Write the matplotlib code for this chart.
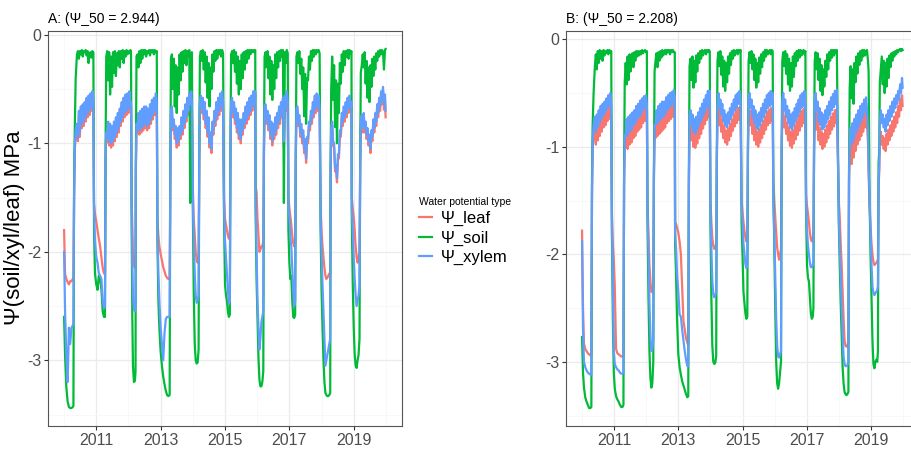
import matplotlib
matplotlib.use("Agg")
import matplotlib.pyplot as plt
from matplotlib.lines import Line2D

plt.rcParams['font.family'] = ['Liberation Sans', 'DejaVu Sans']
plt.rcParams['axes.unicode_minus'] = False

series_names = ['Ψ_leaf', 'Ψ_soil', 'Ψ_xylem']
series_colors = ['#F8766D', '#00BA38', '#619CFF']
panel_titles = ['A: (Ψ_50 = 2.944)', 'B: (Ψ_50 = 2.208)']
year_ticks = [2011, 2013, 2015, 2017, 2019]
year_minor = [2010, 2012, 2014, 2016, 2018, 2020]
psi_ticks = [0, -1, -2, -3]
psi_minor = [-0.5, -1.5, -2.5, -3.5]

# ---- panel A (decimal year) ----
t_a = [
    2010.00, 2010.03, 2010.07, 2010.11, 2010.15, 2010.19, 2010.23, 2010.27, 2010.29,
    2010.31, 2010.33, 2010.36, 2010.40,
    2010.43, 2010.46, 2010.49, 2010.52, 2010.55, 2010.58, 2010.61, 2010.64, 2010.67, 2010.70, 2010.73, 2010.76, 2010.79, 2010.82, 2010.85, 2010.88, 2010.91,
    2010.93, 2010.96, 2011.00, 2011.04, 2011.08, 2011.12, 2011.16, 2011.20, 2011.24, 2011.27,
    2011.29, 2011.31,
    2011.34, 2011.37, 2011.40, 2011.43, 2011.46, 2011.49, 2011.52, 2011.55, 2011.58, 2011.61, 2011.64, 2011.67, 2011.70, 2011.73, 2011.76, 2011.79, 2011.82, 2011.85, 2011.88, 2011.91, 2011.94, 2011.97, 2012.00, 2012.03, 2012.06, 2012.08,
    2012.10, 2012.12, 2012.14, 2012.17, 2012.20, 2012.22,
    2012.23, 2012.25,
    2012.28, 2012.31, 2012.34, 2012.37, 2012.40, 2012.43, 2012.46, 2012.49, 2012.52, 2012.55, 2012.58, 2012.61, 2012.64, 2012.67, 2012.70, 2012.73, 2012.76, 2012.79, 2012.82, 2012.85, 2012.88,
    2012.90, 2012.93, 2012.96, 2013.00, 2013.04, 2013.08, 2013.12, 2013.16, 2013.20, 2013.24, 2013.28,
    2013.30, 2013.32,
    2013.35, 2013.38, 2013.41, 2013.44, 2013.47, 2013.50, 2013.53, 2013.56, 2013.59, 2013.62, 2013.65, 2013.68, 2013.71, 2013.74, 2013.77, 2013.80, 2013.83, 2013.86, 2013.89, 2013.92, 2013.95, 2013.97,
    2014.00, 2014.03, 2014.06, 2014.09, 2014.12, 2014.15, 2014.18,
    2014.20, 2014.22,
    2014.25, 2014.28, 2014.31, 2014.34, 2014.37, 2014.40, 2014.43, 2014.46, 2014.49, 2014.52, 2014.55, 2014.58, 2014.61, 2014.64, 2014.67, 2014.70, 2014.73, 2014.76, 2014.79, 2014.82, 2014.85, 2014.88, 2014.91, 2014.94,
    2014.97, 2015.00, 2015.03, 2015.06, 2015.09, 2015.12, 2015.15,
    2015.17, 2015.19,
    2015.22, 2015.25, 2015.28, 2015.31, 2015.34, 2015.37, 2015.40, 2015.43, 2015.46, 2015.49, 2015.52, 2015.55, 2015.58, 2015.61, 2015.64, 2015.67, 2015.70, 2015.73, 2015.76, 2015.79, 2015.82, 2015.85, 2015.88, 2015.91, 2015.94,
    2015.95, 2015.98, 2016.01, 2016.04, 2016.07, 2016.10, 2016.13, 2016.16, 2016.19,
    2016.21, 2016.23,
    2016.26, 2016.29, 2016.32, 2016.35, 2016.38, 2016.41, 2016.44, 2016.47, 2016.50, 2016.53, 2016.56, 2016.59, 2016.62, 2016.65, 2016.68, 2016.71, 2016.74, 2016.77, 2016.80, 2016.83, 2016.86, 2016.89, 2016.92, 2016.95,
    2016.97, 2017.00, 2017.03, 2017.06, 2017.09, 2017.12, 2017.15, 2017.18,
    2017.20, 2017.22,
    2017.25, 2017.28, 2017.31, 2017.34, 2017.37, 2017.40, 2017.43, 2017.46, 2017.49, 2017.52, 2017.55, 2017.58, 2017.61, 2017.64, 2017.67, 2017.70, 2017.73, 2017.76, 2017.79, 2017.82, 2017.85, 2017.88, 2017.91, 2017.94,
    2017.97, 2018.00, 2018.03, 2018.06, 2018.09, 2018.12, 2018.15, 2018.18, 2018.21, 2018.24, 2018.27,
    2018.28, 2018.30,
    2018.33, 2018.36, 2018.39, 2018.42, 2018.45, 2018.48, 2018.51, 2018.54, 2018.57, 2018.60, 2018.63, 2018.66, 2018.69, 2018.72, 2018.75, 2018.78, 2018.81, 2018.84, 2018.87, 2018.90, 2018.93,
    2018.94, 2018.97, 2019.00, 2019.03, 2019.06, 2019.09, 2019.12, 2019.15, 2019.18,
    2019.20, 2019.22,
    2019.25, 2019.28, 2019.31, 2019.34, 2019.37, 2019.40, 2019.43, 2019.46, 2019.49, 2019.52, 2019.55, 2019.58, 2019.61, 2019.64, 2019.67, 2019.70, 2019.73, 2019.76, 2019.79, 2019.82, 2019.85, 2019.88, 2019.91, 2019.94, 2019.97, 2019.99,
]
soil_a = [
    -2.60, -2.95, -3.25, -3.38, -3.43, -3.44, -3.44, -3.43, -3.42,
    -1.40, -0.90, -0.40, -0.18,
    -0.15, -0.22, -0.15, -0.18, -0.14, -0.20, -0.15, -0.16, -0.14, -0.19, -0.15, -0.26, -0.17, -0.16, -0.21, -0.15, -0.16,
    -1.80, -2.20, -2.30, -2.35, -2.22, -2.25, -2.35, -2.55, -2.60, -2.60,
    -1.00, -0.20,
    -0.15, -0.42, -0.16, -0.55, -0.20, -0.48, -0.16, -0.35, -0.15, -0.38, -0.17, -0.28, -0.15, -0.30, -0.15, -0.22, -0.14, -0.26, -0.15, -0.20, -0.14, -0.18, -0.15, -0.17, -0.14, -0.16,
    -1.80, -2.60, -3.05, -3.20, -3.19, -3.10,
    -1.20, -0.20,
    -0.18, -0.30, -0.15, -0.26, -0.14, -0.22, -0.14, -0.18, -0.14, -0.20, -0.15, -0.17, -0.14, -0.19, -0.14, -0.16, -0.14, -0.18, -0.14, -0.16, -0.15,
    -1.90, -2.45, -2.70, -2.92, -3.05, -3.15, -3.22, -3.28, -3.32, -3.33, -3.32,
    -1.20, -0.22,
    -0.18, -0.50, -0.22, -0.66, -0.28, -0.72, -0.30, -0.55, -0.18, -0.42, -0.16, -0.34, -0.15, -0.26, -0.14, -0.28, -0.15, -0.20, -0.14, -1.55, -0.18, -0.16,
    -1.60, -2.40, -2.85, -3.00, -3.03, -3.02, -2.90,
    -1.10, -0.20,
    -0.15, -0.24, -0.14, -0.32, -0.16, -0.44, -0.20, -0.58, -0.26, -0.66, -0.30, -0.50, -0.18, -0.34, -0.15, -0.24, -0.14, -0.22, -0.14, -0.18, -0.14, -0.20, -0.14, -0.17,
    -1.70, -2.30, -2.40, -2.45, -2.55, -2.60, -2.58,
    -1.00, -0.18,
    -0.15, -0.26, -0.14, -0.34, -0.16, -0.45, -0.20, -0.55, -0.24, -0.50, -0.18, -0.40, -0.16, -0.32, -0.15, -0.26, -0.14, -0.22, -0.14, -0.18, -0.14, -0.16, -0.14, -0.16, -0.14,
    -1.60, -2.25, -2.60, -2.98, -3.18, -3.24, -3.24, -3.20, -3.10,
    -1.00, -0.20,
    -0.16, -0.30, -0.15, -0.40, -0.20, -0.55, -0.24, -0.60, -0.28, -0.50, -0.18, -0.40, -0.16, -0.30, -0.15, -0.24, -0.14, -0.20, -0.14, -1.55, -0.16, -0.26, -0.14, -0.17,
    -1.80, -2.10, -2.25, -2.22, -2.45, -2.60, -2.61, -2.58,
    -1.10, -0.20,
    -0.16, -0.26, -0.15, -0.36, -0.22, -0.50, -0.30, -0.75, -0.36, -0.82, -0.40, -0.42, -0.20, -0.32, -0.15, -0.24, -0.14, -0.20, -0.14, -0.18, -0.14, -0.16, -0.14, -0.17,
    -1.80, -2.35, -2.70, -3.00, -3.20, -3.30, -3.32, -3.33, -3.33, -3.32, -3.30,
    -1.30, -0.50,
    -0.20, -0.60, -0.28, -0.85, -0.42, -1.00, -0.45, -0.72, -0.26, -0.45, -0.18, -0.34, -0.15, -0.28, -0.15, -0.20, -0.14, -0.22, -0.14, -0.17, -0.15,
    -1.70, -2.30, -2.70, -2.95, -3.05, -3.07, -3.00, -2.95, -2.80,
    -1.20, -0.35,
    -0.28, -0.18, -0.30, -0.16, -0.45, -0.24, -0.58, -0.30, -0.62, -0.28, -0.48, -0.22, -0.38, -0.20, -0.32, -0.17, -0.24, -0.15, -0.20, -0.14, -0.18, -0.14, -0.16, -0.32, -0.14, -0.13,
]
xylem_a = [
    -2.00, -2.55, -2.95, -3.20, -2.70, -2.85, -2.70, -2.68, -2.65,
    -1.50, -1.05, -0.88, -0.82,
    -0.95, -0.70, -0.90, -0.66, -0.82, -0.64, -0.80, -0.62, -0.76, -0.58, -0.72, -0.56, -0.70, -0.54, -0.66, -0.52, -0.60,
    -1.60, -1.90, -2.05, -2.10, -2.20, -2.22, -2.25, -2.45, -2.52, -2.50,
    -1.10, -0.90,
    -0.95, -0.80, -0.98, -0.82, -1.00, -0.84, -0.98, -0.80, -0.94, -0.76, -0.90, -0.72, -0.86, -0.68, -0.80, -0.62, -0.76, -0.58, -0.72, -0.55, -0.70, -0.54, -0.68, -0.52, -0.66, -0.62,
    -1.60, -2.10, -2.40, -2.52, -2.55, -2.50,
    -1.20, -0.82,
    -0.86, -0.72, -0.88, -0.70, -0.86, -0.68, -0.84, -0.66, -0.82, -0.66, -0.84, -0.68, -0.82, -0.64, -0.78, -0.60, -0.74, -0.58, -0.70, -0.54, -0.62,
    -1.80, -2.20, -2.45, -2.70, -2.85, -3.00, -2.75, -2.62, -2.60, -2.60, -2.60,
    -1.30, -0.70,
    -0.66, -0.84, -0.78, -0.92, -0.84, -1.00, -0.86, -0.98, -0.84, -0.92, -0.76, -0.88, -0.70, -0.82, -0.64, -0.76, -0.58, -0.70, -0.54, -0.64, -0.52, -0.62,
    -1.50, -1.90, -2.20, -2.40, -2.47, -2.45, -2.40,
    -1.10, -0.62,
    -0.56, -0.68, -0.58, -0.74, -0.62, -0.82, -0.70, -0.90, -0.76, -1.00, -0.90, -1.05, -0.80, -0.88, -0.70, -0.80, -0.62, -0.74, -0.58, -0.70, -0.54, -0.66, -0.52, -0.62,
    -1.60, -1.90, -2.05, -2.20, -2.35, -2.48, -2.45,
    -1.00, -0.62,
    -0.58, -0.72, -0.62, -0.78, -0.68, -0.86, -0.72, -0.92, -0.78, -0.96, -0.78, -0.88, -0.72, -0.82, -0.66, -0.78, -0.62, -0.74, -0.58, -0.70, -0.56, -0.66, -0.52, -0.62, -0.52,
    -1.50, -2.00, -2.46, -2.70, -2.90, -2.80, -2.65, -2.60, -2.55,
    -1.05, -0.66,
    -0.64, -0.78, -0.70, -0.84, -0.74, -0.92, -0.80, -0.98, -0.82, -0.92, -0.76, -0.88, -0.72, -0.82, -0.66, -0.78, -0.62, -0.72, -0.58, -0.98, -0.56, -0.66, -0.52, -0.62,
    -1.60, -1.67, -1.85, -1.95, -2.15, -2.35, -2.50, -2.45,
    -1.10, -0.68,
    -0.66, -0.80, -0.74, -0.90, -0.82, -0.96, -0.88, -1.05, -0.96, -1.14, -0.94, -0.96, -0.80, -0.84, -0.70, -0.78, -0.62, -0.72, -0.56, -0.68, -0.54, -0.66, -0.56, -0.68,
    -1.70, -2.00, -2.30, -2.55, -2.80, -3.05, -3.00, -2.95, -2.90, -2.85, -2.80,
    -1.30, -0.85,
    -0.80, -0.98, -1.00, -1.22, -1.20, -1.32, -1.10, -1.10, -0.88, -0.90, -0.72, -0.80, -0.66, -0.76, -0.62, -0.72, -0.58, -0.68, -0.56, -0.66, -0.62,
    -1.60, -1.80, -2.05, -2.25, -2.40, -2.50, -2.45, -2.40, -2.30,
    -1.20, -0.78,
    -0.74, -0.86, -0.72, -0.86, -0.80, -0.92, -0.86, -0.98, -0.92, -1.05, -0.88, -0.94, -0.78, -0.86, -0.72, -0.80, -0.64, -0.72, -0.58, -0.66, -0.52, -0.60, -0.48, -0.64, -0.55, -0.70,
]
leaf_a = [
    -1.80, -2.20, -2.25, -2.28, -2.30, -2.27, -2.27, -2.25, -2.25,
    -1.52, -1.08, -0.92, -0.86,
    -0.98, -0.74, -0.94, -0.70, -0.86, -0.68, -0.84, -0.66, -0.80, -0.62, -0.76, -0.60, -0.74, -0.57, -0.70, -0.55, -0.63,
    -1.55, -1.65, -1.72, -1.80, -1.88, -1.95, -2.05, -2.15, -2.20, -2.20,
    -1.15, -0.93,
    -0.99, -0.83, -1.02, -0.85, -1.04, -0.87, -1.02, -0.83, -0.98, -0.79, -0.94, -0.75, -0.90, -0.71, -0.84, -0.65, -0.80, -0.61, -0.76, -0.58, -0.74, -0.57, -0.72, -0.55, -0.70, -0.65,
    -1.55, -1.75, -2.00, -2.12, -2.15, -2.15,
    -1.25, -0.86,
    -0.90, -0.76, -0.92, -0.74, -0.90, -0.72, -0.88, -0.70, -0.86, -0.70, -0.88, -0.72, -0.86, -0.68, -0.82, -0.64, -0.78, -0.61, -0.74, -0.57, -0.65,
    -1.70, -1.85, -1.95, -2.02, -2.08, -2.14, -2.18, -2.22, -2.24, -2.25, -2.25,
    -1.35, -0.74,
    -0.70, -0.88, -0.82, -0.96, -0.88, -1.04, -0.90, -1.02, -0.88, -0.96, -0.80, -0.92, -0.74, -0.86, -0.68, -0.80, -0.62, -0.74, -0.58, -0.68, -0.56, -0.66,
    -1.40, -1.70, -1.85, -2.00, -2.08, -2.10, -2.05,
    -1.15, -0.66,
    -0.59, -0.72, -0.61, -0.78, -0.66, -0.86, -0.74, -0.94, -0.80, -1.04, -0.94, -1.09, -0.84, -0.92, -0.74, -0.84, -0.66, -0.78, -0.62, -0.74, -0.58, -0.70, -0.56, -0.66,
    -1.50, -1.70, -1.75, -1.80, -1.85, -1.88, -1.85,
    -1.05, -0.65,
    -0.61, -0.76, -0.65, -0.82, -0.71, -0.90, -0.76, -0.96, -0.82, -1.00, -0.82, -0.92, -0.76, -0.86, -0.70, -0.82, -0.66, -0.78, -0.61, -0.74, -0.59, -0.70, -0.55, -0.66, -0.55,
    -1.40, -1.45, -1.70, -1.85, -2.00, -1.98, -1.95, -1.95, -1.90,
    -1.10, -0.70,
    -0.67, -0.82, -0.74, -0.88, -0.78, -0.96, -0.84, -1.02, -0.86, -0.96, -0.80, -0.92, -0.76, -0.86, -0.70, -0.82, -0.66, -0.76, -0.61, -1.03, -0.59, -0.70, -0.55, -0.66,
    -1.50, -1.60, -1.67, -1.75, -1.85, -1.92, -1.95, -1.92,
    -1.15, -0.72,
    -0.69, -0.84, -0.78, -0.94, -0.86, -1.00, -0.92, -1.09, -1.00, -1.18, -0.98, -1.00, -0.84, -0.88, -0.74, -0.82, -0.66, -0.76, -0.59, -0.72, -0.57, -0.70, -0.59, -0.72,
    -1.60, -1.80, -1.95, -2.05, -2.15, -2.22, -2.25, -2.24, -2.22, -2.20, -2.20,
    -1.35, -0.88,
    -0.83, -1.02, -1.04, -1.26, -1.24, -1.36, -1.14, -1.14, -0.92, -0.94, -0.76, -0.84, -0.70, -0.80, -0.66, -0.76, -0.62, -0.72, -0.60, -0.70, -0.66,
    -1.50, -1.60, -1.68, -1.80, -1.95, -2.05, -2.10, -2.05, -2.00,
    -1.25, -0.82,
    -0.78, -0.90, -0.76, -0.90, -0.84, -0.96, -0.90, -1.02, -0.96, -1.09, -0.92, -0.98, -0.82, -0.90, -0.76, -0.84, -0.68, -0.76, -0.62, -0.70, -0.56, -0.64, -0.52, -0.69, -0.60, -0.76,
]

# ---- panel B (decimal year) ----
t_b = [
    2010.00, 2010.03, 2010.06, 2010.10, 2010.14, 2010.18, 2010.22, 2010.26, 2010.29,
    2010.31, 2010.33, 2010.36, 2010.40,
    2010.43, 2010.46, 2010.49, 2010.52, 2010.55, 2010.58, 2010.61, 2010.64, 2010.67, 2010.70, 2010.73, 2010.76, 2010.79, 2010.82, 2010.85, 2010.88, 2010.91,
    2010.93, 2010.96, 2010.99, 2011.02, 2011.06, 2011.10, 2011.14, 2011.18, 2011.22, 2011.26, 2011.29,
    2011.31, 2011.33,
    2011.36, 2011.39, 2011.42, 2011.45, 2011.48, 2011.51, 2011.54, 2011.57, 2011.60, 2011.63, 2011.66, 2011.69, 2011.72, 2011.75, 2011.78, 2011.81, 2011.84, 2011.87, 2011.90, 2011.93, 2011.96, 2011.99, 2012.02,
    2012.04, 2012.07, 2012.10, 2012.13, 2012.16, 2012.19, 2012.22,
    2012.24, 2012.26,
    2012.29, 2012.32, 2012.35, 2012.38, 2012.41, 2012.44, 2012.47, 2012.50, 2012.53, 2012.56, 2012.59, 2012.62, 2012.65, 2012.68, 2012.71, 2012.74, 2012.77, 2012.80, 2012.83, 2012.86, 2012.89,
    2012.90, 2012.93, 2012.96, 2013.00, 2013.04, 2013.08, 2013.12, 2013.16, 2013.20, 2013.24, 2013.28, 2013.31,
    2013.33, 2013.35,
    2013.38, 2013.41, 2013.44, 2013.47, 2013.50, 2013.53, 2013.56, 2013.59, 2013.62, 2013.65, 2013.68, 2013.71, 2013.74, 2013.77, 2013.80, 2013.83, 2013.86, 2013.89, 2013.92, 2013.95, 2013.98,
    2014.00, 2014.03, 2014.06, 2014.09, 2014.12, 2014.15, 2014.18,
    2014.20, 2014.22,
    2014.25, 2014.28, 2014.31, 2014.34, 2014.37, 2014.40, 2014.43, 2014.46, 2014.49, 2014.52, 2014.55, 2014.58, 2014.61, 2014.64, 2014.67, 2014.70, 2014.73, 2014.76, 2014.79, 2014.82, 2014.85, 2014.88, 2014.91, 2014.94,
    2014.97, 2015.00, 2015.03, 2015.06, 2015.09, 2015.12, 2015.15,
    2015.17, 2015.19,
    2015.22, 2015.25, 2015.28, 2015.31, 2015.34, 2015.37, 2015.40, 2015.43, 2015.46, 2015.49, 2015.52, 2015.55, 2015.58, 2015.61, 2015.64, 2015.67, 2015.70, 2015.73, 2015.76, 2015.79, 2015.82, 2015.85, 2015.88, 2015.91, 2015.94,
    2015.96, 2015.99, 2016.02, 2016.05, 2016.08, 2016.11, 2016.14, 2016.17, 2016.20,
    2016.22, 2016.24,
    2016.27, 2016.30, 2016.33, 2016.36, 2016.39, 2016.42, 2016.45, 2016.48, 2016.51, 2016.54, 2016.57, 2016.60, 2016.63, 2016.66, 2016.69, 2016.72, 2016.75, 2016.78, 2016.81, 2016.84, 2016.87, 2016.90, 2016.93, 2016.96,
    2016.98, 2017.01, 2017.04, 2017.07, 2017.10, 2017.13, 2017.16, 2017.19, 2017.21,
    2017.23, 2017.25,
    2017.28, 2017.31, 2017.34, 2017.37, 2017.40, 2017.43, 2017.46, 2017.49, 2017.52, 2017.55, 2017.58, 2017.61, 2017.64, 2017.67, 2017.70, 2017.73, 2017.76, 2017.79, 2017.82, 2017.85, 2017.88, 2017.91, 2017.94,
    2018.00, 2018.03, 2018.06, 2018.09, 2018.12, 2018.15, 2018.18, 2018.21, 2018.24, 2018.27, 2018.30,
    2018.32, 2018.34,
    2018.37, 2018.40, 2018.43, 2018.46, 2018.49, 2018.52, 2018.55, 2018.58, 2018.61, 2018.64, 2018.67, 2018.70, 2018.73, 2018.76, 2018.79, 2018.82, 2018.85, 2018.88, 2018.91, 2018.93,
    2018.96, 2018.99, 2019.02, 2019.05, 2019.08, 2019.11, 2019.14, 2019.17, 2019.20, 2019.22,
    2019.24, 2019.26, 2019.28,
    2019.31, 2019.34, 2019.37, 2019.40, 2019.43, 2019.46, 2019.49, 2019.52, 2019.55, 2019.58, 2019.61, 2019.64, 2019.67, 2019.70, 2019.73, 2019.76, 2019.79, 2019.82, 2019.85, 2019.88, 2019.91, 2019.94, 2019.97, 2019.99,
]
soil_b = [
    -2.77, -3.10, -3.24, -3.33, -3.37, -3.40, -3.43, -3.43, -3.42,
    -1.30, -0.80, -0.50, -0.25,
    -0.14, -0.28, -0.11, -0.22, -0.10, -0.18, -0.11, -0.20, -0.10, -0.15, -0.11, -0.13, -0.10, -0.14, -0.10, -0.12, -0.11,
    -1.80, -2.60, -3.10, -3.25, -3.32, -3.35, -3.37, -3.40, -3.42, -3.42, -3.40,
    -1.20, -0.40,
    -0.22, -0.42, -0.16, -0.38, -0.14, -0.30, -0.18, -0.13, -0.26, -0.12, -0.20, -0.11, -0.16, -0.11, -0.15, -0.11, -0.14, -0.10, -0.13, -0.11, -0.10, -0.12, -0.11,
    -1.70, -2.40, -2.90, -3.15, -3.24, -3.20, -3.00,
    -1.20, -0.30,
    -0.20, -0.13, -0.26, -0.12, -0.20, -0.11, -0.17, -0.10, -0.15, -0.11, -0.10, -0.14, -0.10, -0.12, -0.10, -0.14, -0.10, -0.12, -0.10, -0.12, -0.12,
    -1.90, -2.20, -2.60, -2.93, -3.05, -3.12, -3.18, -3.22, -3.26, -3.30, -3.33, -3.32,
    -1.20, -0.25,
    -0.18, -0.38, -0.16, -0.45, -0.20, -0.40, -0.15, -0.30, -0.13, -0.22, -0.11, -0.18, -0.10, -0.15, -0.11, -0.10, -0.14, -0.10, -0.12, -0.10, -0.11,
    -1.70, -2.40, -2.85, -3.00, -3.02, -3.01, -2.95,
    -1.10, -0.20,
    -0.12, -0.25, -0.11, -0.33, -0.16, -0.44, -0.20, -0.48, -0.22, -0.40, -0.16, -0.32, -0.13, -0.24, -0.11, -0.18, -0.10, -0.15, -0.11, -0.10, -0.14, -0.10, -0.12, -0.10,
    -1.70, -2.00, -2.35, -2.45, -2.55, -2.60, -2.58,
    -1.00, -0.20,
    -0.12, -0.22, -0.11, -0.28, -0.14, -0.38, -0.18, -0.45, -0.22, -0.40, -0.17, -0.32, -0.14, -0.26, -0.12, -0.20, -0.10, -0.16, -0.10, -0.14, -0.11, -0.10, -0.14, -0.10, -0.11,
    -1.40, -1.90, -2.50, -3.00, -3.20, -3.25, -3.20, -3.10, -3.00,
    -1.00, -0.20,
    -0.12, -0.25, -0.11, -0.32, -0.14, -0.42, -0.18, -0.48, -0.22, -0.44, -0.16, -0.35, -0.13, -0.25, -0.11, -0.20, -0.10, -0.17, -0.10, -0.15, -0.11, -0.10, -0.14, -0.11,
    -1.60, -2.10, -2.22, -2.25, -2.40, -2.55, -2.60, -2.58, -2.50,
    -1.00, -0.20,
    -0.12, -0.28, -0.13, -0.38, -0.18, -0.48, -0.24, -0.52, -0.28, -0.44, -0.20, -0.35, -0.14, -0.28, -0.12, -0.20, -0.10, -0.17, -0.10, -0.15, -0.10, -0.13, -0.10,
    -1.70, -2.10, -2.45, -2.75, -3.05, -3.20, -3.28, -3.30, -3.31, -3.30, -3.28,
    -1.20, -0.45,
    -0.25, -0.55, -0.28, -0.60, -0.22, -0.40, -0.16, -0.32, -0.13, -0.24, -0.11, -0.20, -0.10, -0.16, -0.10, -0.15, -0.11, -0.10, -0.20, -0.30,
    -1.50, -2.00, -2.40, -2.80, -3.02, -3.06, -3.00, -2.98, -3.00, -2.90,
    -1.15, -1.05, -0.40,
    -0.28, -0.16, -0.42, -0.20, -0.50, -0.22, -0.44, -0.18, -0.36, -0.15, -0.26, -0.13, -0.20, -0.12, -0.16, -0.11, -0.14, -0.10, -0.12, -0.10, -0.09, -0.11, -0.09, -0.10,
]
xylem_b = [
    -1.88, -2.70, -3.00, -3.05, -3.08, -3.10, -3.11, -3.12, -3.12,
    -1.40, -0.95, -0.80, -0.72,
    -0.86, -0.70, -0.82, -0.66, -0.78, -0.62, -0.74, -0.60, -0.70, -0.58, -0.68, -0.55, -0.64, -0.52, -0.62, -0.50, -0.60,
    -1.70, -2.30, -2.90, -3.02, -3.05, -3.07, -3.08, -3.10, -3.11, -3.11, -3.10,
    -1.30, -0.90,
    -0.88, -0.74, -0.90, -0.72, -0.86, -0.70, -0.84, -0.68, -0.80, -0.66, -0.78, -0.62, -0.74, -0.60, -0.72, -0.57, -0.70, -0.55, -0.66, -0.53, -0.64, -0.52, -0.60,
    -1.60, -2.00, -2.45, -2.75, -2.90, -2.88, -2.80,
    -1.25, -0.80,
    -0.80, -0.66, -0.78, -0.62, -0.76, -0.60, -0.74, -0.58, -0.72, -0.58, -0.70, -0.54, -0.66, -0.52, -0.64, -0.50, -0.62, -0.49, -0.60, -0.47, -0.55,
    -1.80, -1.95, -2.18, -2.35, -2.56, -2.58, -2.70, -2.80, -2.90, -2.98, -3.04, -3.04,
    -1.30, -0.72,
    -0.66, -0.80, -0.70, -0.86, -0.74, -0.88, -0.72, -0.84, -0.68, -0.80, -0.64, -0.76, -0.60, -0.72, -0.56, -0.68, -0.52, -0.64, -0.48, -0.60, -0.48,
    -1.60, -1.95, -2.25, -2.37, -2.40, -2.38, -2.35,
    -1.10, -0.62,
    -0.50, -0.64, -0.56, -0.70, -0.60, -0.76, -0.66, -0.80, -0.70, -0.82, -0.68, -0.78, -0.64, -0.74, -0.60, -0.70, -0.56, -0.66, -0.52, -0.64, -0.50, -0.60, -0.48, -0.58,
    -1.55, -1.70, -1.90, -2.00, -2.09, -2.13, -2.10,
    -1.00, -0.55,
    -0.50, -0.64, -0.56, -0.72, -0.62, -0.78, -0.66, -0.82, -0.70, -0.84, -0.68, -0.80, -0.64, -0.76, -0.60, -0.72, -0.56, -0.68, -0.52, -0.64, -0.50, -0.62, -0.48, -0.60, -0.50,
    -1.50, -1.80, -2.20, -2.60, -2.85, -2.95, -2.96, -2.93, -2.90,
    -1.05, -0.58,
    -0.50, -0.66, -0.56, -0.72, -0.62, -0.78, -0.66, -0.82, -0.70, -0.84, -0.68, -0.80, -0.64, -0.76, -0.60, -0.72, -0.56, -0.68, -0.52, -0.64, -0.50, -0.62, -0.48, -0.60,
    -1.55, -1.78, -1.92, -2.00, -2.08, -2.12, -2.12, -2.10, -2.05,
    -1.00, -0.58,
    -0.50, -0.66, -0.58, -0.76, -0.64, -0.80, -0.68, -0.84, -0.70, -0.82, -0.66, -0.78, -0.62, -0.74, -0.58, -0.70, -0.54, -0.66, -0.51, -0.63, -0.48, -0.60, -0.47,
    -1.60, -1.95, -2.20, -2.50, -2.75, -2.95, -3.02, -3.04, -3.04, -3.03, -3.00,
    -1.25, -0.95,
    -0.82, -0.98, -0.78, -0.94, -0.74, -0.88, -0.70, -0.84, -0.66, -0.80, -0.62, -0.76, -0.60, -0.72, -0.56, -0.68, -0.54, -0.66, -0.85, -1.20,
    -1.45, -1.80, -2.10, -2.30, -2.36, -2.38, -2.36, -2.35, -2.33, -2.30,
    -1.30, -1.20, -0.75,
    -0.66, -0.78, -0.70, -0.82, -0.74, -0.86, -0.70, -0.80, -0.66, -0.76, -0.62, -0.72, -0.58, -0.68, -0.55, -0.64, -0.52, -0.60, -0.48, -0.56, -0.42, -0.50, -0.36, -0.45,
]
leaf_b = [
    -1.78, -2.50, -2.83, -2.88, -2.90, -2.92, -2.93, -2.94, -2.94,
    -1.45, -1.00, -0.90, -0.85,
    -0.98, -0.82, -0.94, -0.78, -0.90, -0.74, -0.86, -0.72, -0.82, -0.70, -0.80, -0.67, -0.76, -0.64, -0.74, -0.62, -0.72,
    -1.60, -1.90, -2.05, -2.30, -2.88, -2.92, -2.93, -2.94, -2.95, -2.95, -2.94,
    -1.35, -0.98,
    -1.00, -0.86, -1.02, -0.84, -0.98, -0.82, -0.96, -0.80, -0.92, -0.78, -0.90, -0.74, -0.86, -0.72, -0.84, -0.69, -0.82, -0.67, -0.78, -0.65, -0.76, -0.64, -0.72,
    -1.55, -1.80, -2.10, -2.25, -2.35, -2.35, -2.30,
    -1.30, -0.90,
    -0.92, -0.78, -0.90, -0.74, -0.88, -0.72, -0.86, -0.70, -0.84, -0.70, -0.82, -0.66, -0.78, -0.64, -0.76, -0.62, -0.74, -0.61, -0.72, -0.59, -0.68,
    -1.70, -1.72, -1.75, -1.80, -1.88, -2.00, -2.30, -2.62, -2.70, -2.78, -2.82, -2.85,
    -1.35, -0.86,
    -0.78, -0.94, -0.82, -1.00, -0.86, -1.01, -0.84, -0.97, -0.80, -0.92, -0.76, -0.88, -0.72, -0.83, -0.68, -0.79, -0.64, -0.75, -0.61, -0.72, -0.61,
    -1.50, -1.70, -1.85, -1.92, -1.95, -1.94, -1.90,
    -1.15, -0.75,
    -0.65, -0.80, -0.71, -0.86, -0.75, -0.92, -0.81, -0.96, -0.85, -0.98, -0.83, -0.94, -0.79, -0.90, -0.75, -0.85, -0.71, -0.81, -0.67, -0.78, -0.65, -0.75, -0.63, -0.73,
    -1.50, -1.60, -1.70, -1.78, -1.84, -1.88, -1.85,
    -1.05, -0.70,
    -0.66, -0.80, -0.72, -0.88, -0.78, -0.94, -0.82, -0.98, -0.86, -1.00, -0.84, -0.96, -0.80, -0.92, -0.76, -0.88, -0.72, -0.84, -0.68, -0.80, -0.66, -0.78, -0.64, -0.76, -0.66,
    -1.30, -1.50, -1.65, -1.80, -1.94, -2.00, -2.05, -2.00, -1.95,
    -1.10, -0.72,
    -0.66, -0.82, -0.72, -0.88, -0.78, -0.94, -0.82, -0.99, -0.86, -1.01, -0.85, -0.97, -0.81, -0.93, -0.77, -0.89, -0.73, -0.85, -0.69, -0.81, -0.66, -0.78, -0.64, -0.76,
    -1.45, -1.55, -1.62, -1.70, -1.80, -1.86, -1.88, -1.85, -1.80,
    -1.05, -0.75,
    -0.66, -0.84, -0.76, -0.94, -0.82, -0.98, -0.86, -1.02, -0.88, -1.00, -0.84, -0.96, -0.80, -0.92, -0.76, -0.88, -0.72, -0.84, -0.69, -0.81, -0.66, -0.78, -0.65,
    -1.50, -1.65, -1.90, -2.10, -2.35, -2.60, -2.80, -2.85, -2.86, -2.85, -2.82,
    -1.30, -1.12,
    -1.00, -1.16, -0.95, -1.10, -0.90, -1.04, -0.85, -0.98, -0.81, -0.94, -0.77, -0.90, -0.74, -0.86, -0.70, -0.82, -0.68, -0.80, -0.95, -1.25,
    -1.55, -1.75, -1.90, -2.00, -2.07, -2.10, -2.09, -2.08, -2.06, -2.05,
    -1.35, -1.25, -0.95,
    -0.86, -0.98, -0.90, -1.02, -0.92, -1.04, -0.88, -0.98, -0.84, -0.94, -0.80, -0.90, -0.76, -0.86, -0.72, -0.82, -0.68, -0.78, -0.62, -0.72, -0.56, -0.66, -0.52, -0.62,
]

panels = [
    (t_a, [leaf_a, soil_a, xylem_a]),
    (t_b, [leaf_b, soil_b, xylem_b]),
]

W, H = 911, 450
fig = plt.figure(figsize=(W / 100, H / 100), dpi=100)
ax_a = fig.add_axes([48 / W, 24 / H, 354 / W, 395 / H])
ax_b = fig.add_axes([566 / W, 24 / H, 353 / W, 395 / H])

for ax, (t, vals), title in zip([ax_a, ax_b], panels, panel_titles):
    for v, col in zip(vals, series_colors):
        assert len(v) == len(t)
        ax.plot(t, v, color=col, lw=1.6, solid_joinstyle='round')
    lo = min(min(v) for v in vals)
    hi = max(max(v) for v in vals)
    pad = 0.05 * (hi - lo)
    ax.set_ylim(lo - pad, hi + pad)
    ax.set_xlim(2009.5, 2020.5)
    ax.set_xticks(year_ticks)
    ax.set_xticks(year_minor, minor=True)
    ax.set_yticks(psi_ticks)
    ax.set_yticklabels([str(p) for p in psi_ticks])
    ax.set_yticks(psi_minor, minor=True)
    ax.grid(which='major', color='#EBEBEB', lw=0.9)
    ax.grid(which='minor', color='#F5F5F5', lw=0.5)
    ax.set_axisbelow(True)
    ax.tick_params(which='minor', length=0)
    ax.tick_params(which='major', length=3, width=0.8, color='#333333',
                   labelsize=11.5, labelcolor='#4D4D4D', pad=2)
    for s in ax.spines.values():
        s.set_color('#555555')
        s.set_linewidth(0.8)
    ax.text(0.0, 1.012, title, transform=ax.transAxes, fontsize=10,
            ha='left', va='bottom')

fig.text(15 / W, 1 - 228 / H, 'Ψ(soil/xyl/leaf) MPa', rotation=90,
         fontsize=16, ha='center', va='center')

handles = [Line2D([], [], color=c, lw=1.6) for c in series_colors]
fig.legend(handles, series_names, loc='center left',
           bbox_to_anchor=(404 / W, 1 - 231 / H), frameon=False,
           title='Water potential type', title_fontsize=7.5, fontsize=12,
           handlelength=0.8, handletextpad=0.5, labelspacing=0.25,
           alignment='left')

fig.savefig('out.png', dpi=100)
